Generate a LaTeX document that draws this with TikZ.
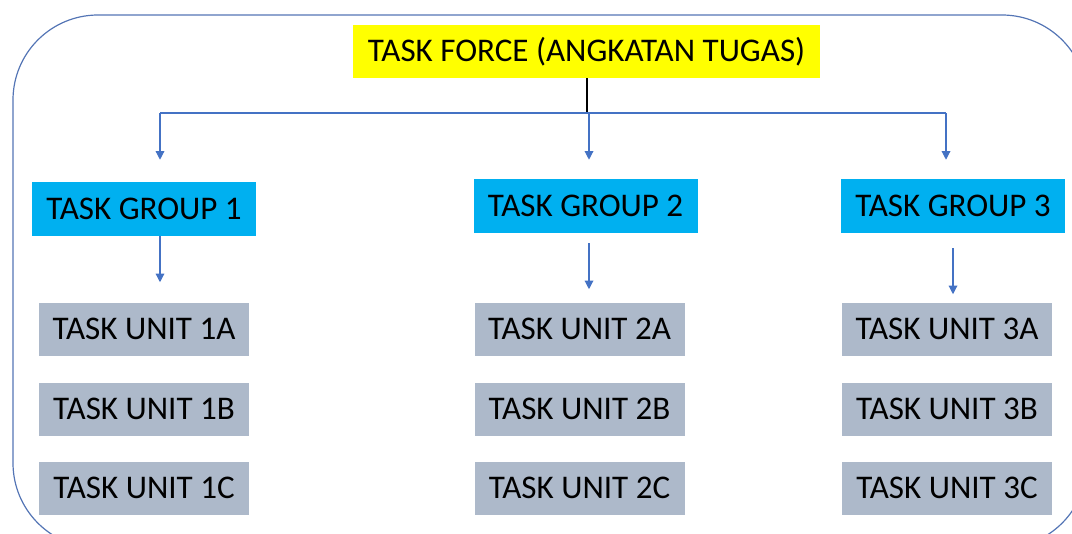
\documentclass[tikz,border=0pt]{standalone}
\usepackage{fontspec}
\setmainfont{Carlito}
\usetikzlibrary{arrows.meta}

\begin{document}
\begin{tikzpicture}[x=0.75pt,y=-0.75pt]
  % Colors
    \definecolor{forcecolor}{HTML}{FFFF00}
    \definecolor{groupcolor}{HTML}{00B0F0}
    \definecolor{unitcolor}{HTML}{ADB9CA}
    \definecolor{linkcolor}{HTML}{4472C4}
    \definecolor{framecolor}{HTML}{5475B5}

  % Styles
    \tikzstyle{box}=[rectangle, inner sep=0pt, text=black,
      font=\fontsize{24.8}{28}\selectfont]
    \tikzstyle{force}=[box, fill=forcecolor, minimum width=350.25pt, minimum height=39.75pt]
    \tikzstyle{group}=[box, fill=groupcolor, minimum width=168pt, minimum height=40.5pt]
    \tikzstyle{unit}=[box, fill=unitcolor, minimum width=157.5pt, minimum height=39.75pt]
    \tikzstyle{link}=[draw=linkcolor, line width=0.9pt,
      -{Triangle[width=6.5pt,length=6.5pt]}]

  % The graphic
    \useasboundingbox (0,0) rectangle (1072,533);

    \begin{scope}
      \clip (0,0) rectangle (1072,533);
      \draw[draw=framecolor, line width=0.9pt, rounded corners=63.75pt]
        (13,15) rectangle (1087,548);
    \end{scope}

    \node[force] (tf) at (586.5,51.5) {TASK FORCE (ANGKATAN TUGAS)};

    \node[group] (g1) at (144,209) {TASK GROUP 1};
    \node[group] (g2) at (585.5,206) {TASK GROUP 2};
    \node[group] (g3) at (953,206) {TASK GROUP 3};

    \foreach \c/\x in {1/144,2/579.5,3/947}
      \foreach \r/\y in {A/329,B/409,C/488}
        \node[unit] (u\c\r) at (\x,\y) {TASK UNIT \c\r};

    % branch line
    \coordinate (hub) at (587,113);
    \coordinate (bar1) at (160,113);
    \coordinate (bar2) at (589,113);
    \coordinate (bar3) at (946,113);

    \draw[line width=1.2pt] (tf.south -| hub) -- (hub);
    \draw[draw=linkcolor, line width=0.9pt] (bar1) -- (bar3);

    \draw[link, shorten >=16.5pt] (bar1) -- (bar1 |- g1.north);
    \draw[link, shorten >=14.25pt] (bar2) -- (bar2 |- g2.north);
    \draw[link, shorten >=14.25pt] (bar3) -- (bar3 |- g3.north);

    % group to first unit
    \draw[link, shorten >=15pt] (g1.south -| bar1) -- (u1A.north -| bar1);
    \draw[link, shorten <=7.5pt, shorten >=9.75pt] (g2.south -| bar2) -- (u2A.north -| bar2);
    \draw[link, shorten <=11.25pt, shorten >=6pt] (g3.south) -- (u3A.north -| g3.south);
\end{tikzpicture}
\end{document}
